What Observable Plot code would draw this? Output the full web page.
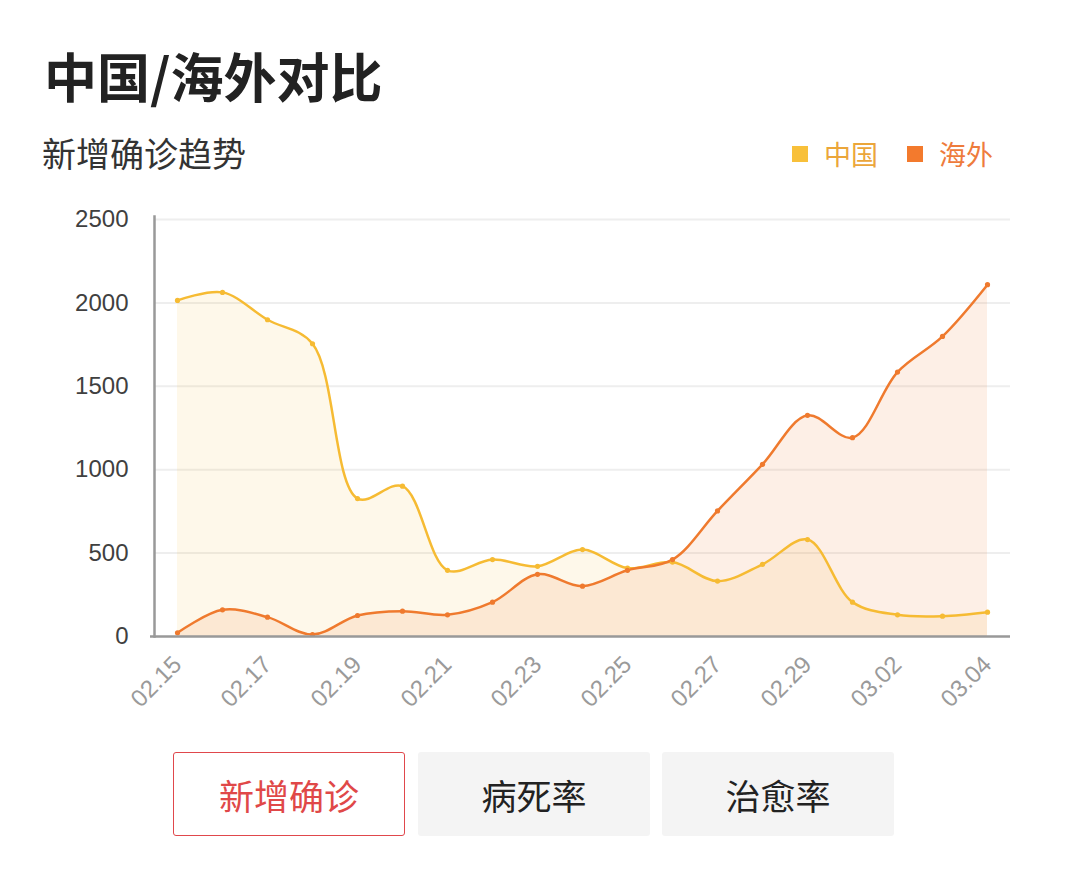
<!DOCTYPE html>
<html>
<head>
<meta charset="utf-8">
<script src="https://cdn.jsdelivr.net/npm/d3@7"></script>
<script src="https://cdn.jsdelivr.net/npm/@observablehq/plot@0.6"></script>
<style>
  html, body { margin: 0; padding: 0; background: #fff; }
  body { width: 1080px; height: 871px; position: relative; overflow: hidden; font-family: "Noto Sans CJK SC", "Noto Sans", sans-serif; }
  .title { position: absolute; left: 44px; top: 36px; font-size: 53px; font-weight: 700; color: #222; line-height: 78px; white-space: nowrap; }
  .subtitle { position: absolute; left: 42px; top: 133px; font-size: 34px; color: #333; line-height: 40px; white-space: nowrap; }
  .legend { position: absolute; top: 134px; left: 792px; font-size: 27px; line-height: 34px; white-space: nowrap; }
  .legend span.item { display: inline-flex; align-items: center; }
  .legend span.sw { display: inline-block; width: 16px; height: 16px; margin-right: 16px; }
  #chart { position: absolute; left: 0; top: 190px; }
  .btn { position: absolute; top: 752px; width: 232px; height: 84px; box-sizing: border-box; display: flex; align-items: center; justify-content: center; font-size: 35px; border-radius: 3px; }
</style>
</head>
<body>
<div class="title" id="title"></div>
<div class="subtitle" id="subtitle"></div>
<div class="legend" id="legend"></div>
<div id="chart"></div>
<div id="buttons"></div>
<script>
const titleText = "中国/海外对比";
const subtitleText = "新增确诊趋势";
const seriesNames = ["中国", "海外"];
const dates = ["02.15","02.16","02.17","02.18","02.19","02.20","02.21","02.22","02.23","02.24","02.25","02.26","02.27","02.28","02.29","03.01","03.02","03.03","03.04"];
const china = [2015, 2063, 1899, 1755, 827, 901, 397, 461, 421, 521, 410, 446, 332, 433, 581, 206, 130, 122, 146];
const overseas = [22, 160, 116, 12, 126, 152, 130, 206, 373, 302, 397, 461, 753, 1032, 1326, 1192, 1585, 1799, 2109];
const yTicks = [0, 500, 1000, 1500, 2000, 2500];
const xTicks = ["02.15","02.17","02.19","02.21","02.23","02.25","02.27","02.29","03.02","03.04"];
const buttonLabels = ["新增确诊", "病死率", "治愈率"];

const chinaColor = "#f6bb33";
const overseasColor = "#ef7a2e";

document.getElementById("title").textContent = titleText;
document.getElementById("subtitle").textContent = subtitleText;

const legend = document.getElementById("legend");
const legendCfg = [
  {name: seriesNames[0], sw: "#f8c03a", text: "#eba63a", gap: 29},
  {name: seriesNames[1], sw: "#f37a2d", text: "#ee7b3c", gap: 0}
];
legendCfg.forEach(c => {
  const it = document.createElement("span");
  it.className = "item";
  it.style.marginRight = c.gap + "px";
  const sw = document.createElement("span");
  sw.className = "sw"; sw.style.background = c.sw;
  const t = document.createElement("span");
  t.textContent = c.name; t.style.color = c.text;
  it.appendChild(sw); it.appendChild(t);
  legend.appendChild(it);
});

const chinaRows = dates.map((d, i) => ({date: d, value: china[i]}));
const overseasRows = dates.map((d, i) => ({date: d, value: overseas[i]}));

const curve = "catmull-rom";
const chart = Plot.plot({
  width: 1080,
  height: 540,
  marginTop: 29,
  marginBottom: 94,
  marginLeft: 154,
  marginRight: 70,
  style: {fontFamily: "'Liberation Sans', Arial, sans-serif", background: "transparent"},
  x: {type: "point", domain: dates, padding: 0.476, label: null},
  y: {domain: [0, 2500], label: null},
  marks: [
    Plot.gridY(yTicks.slice(1), {stroke: "#eeeeee", strokeOpacity: 1, strokeWidth: 2}),
    Plot.areaY(chinaRows, {x: "date", y: "value", fill: chinaColor, fillOpacity: 0.1, curve}),
    Plot.areaY(overseasRows, {x: "date", y: "value", fill: overseasColor, fillOpacity: 0.12, curve}),
    Plot.lineY(chinaRows, {x: "date", y: "value", stroke: chinaColor, strokeWidth: 2.5, curve}),
    Plot.lineY(overseasRows, {x: "date", y: "value", stroke: overseasColor, strokeWidth: 2.5, curve}),
    Plot.dot(chinaRows, {x: "date", y: "value", fill: chinaColor, r: 2.6}),
    Plot.dot(overseasRows, {x: "date", y: "value", fill: overseasColor, r: 2.6}),
    Plot.ruleY([0], {stroke: "#999", strokeWidth: 2.5, insetLeft: -4}),
    Plot.frame({anchor: "left", stroke: "#999", strokeWidth: 2.5, insetTop: -3}),
    Plot.axisY({ticks: yTicks, tickSize: 0, tickPadding: 26, fontSize: 24, color: "#404040", tickFormat: d => String(d), label: null}),
    Plot.axisX({ticks: xTicks, tickSize: 0, tickPadding: 24, tickRotate: -45, fontSize: 24, color: "#9a9a9a", label: null})
  ]
});
document.getElementById("chart").appendChild(chart);

const btnWrap = document.getElementById("buttons");
const btnCfg = [
  {left: 173, bg: "#fff", border: "1.5px solid #e0474c", color: "#e04848"},
  {left: 418, bg: "#f4f4f4", border: "none", color: "#222"},
  {left: 662, bg: "#f4f4f4", border: "none", color: "#222"}
];
buttonLabels.forEach((label, i) => {
  const b = document.createElement("div");
  b.className = "btn";
  b.style.left = btnCfg[i].left + "px";
  b.style.background = btnCfg[i].bg;
  b.style.border = btnCfg[i].border;
  b.style.color = btnCfg[i].color;
  b.textContent = label;
  btnWrap.appendChild(b);
});
</script>
</body>
</html>
